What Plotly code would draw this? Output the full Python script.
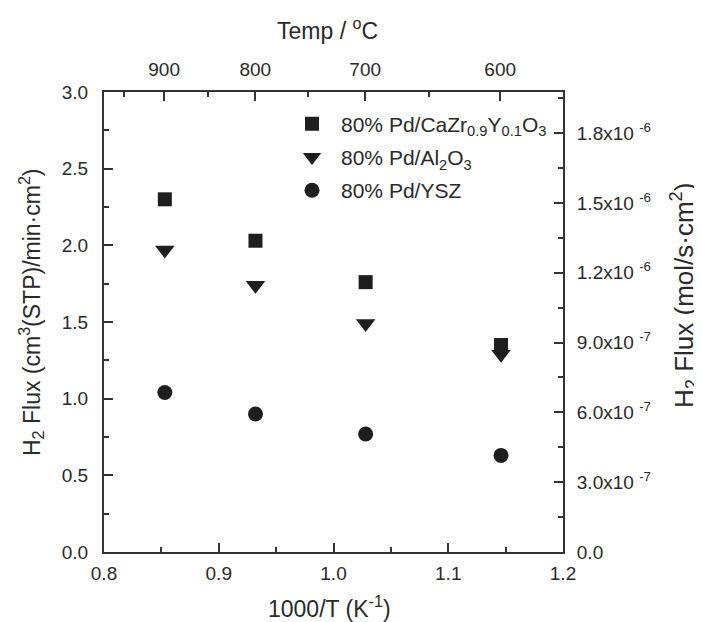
import plotly.graph_objects as go

# ---- data ----
inv_T = [0.853, 0.932, 1.028, 1.146]            # 1000/T (K^-1)
flux_cazr = [2.30, 2.03, 1.76, 1.35]            # cm3(STP)/min.cm2
flux_al2o3 = [1.97, 1.74, 1.49, 1.29]
flux_ysz = [1.04, 0.90, 0.77, 0.63]

series_names = [
    "80% Pd/CaZr<sub>0.9</sub>Y<sub>0.1</sub>O<sub>3</sub>",
    "80% Pd/Al<sub>2</sub>O<sub>3</sub>",
    "80% Pd/YSZ",
]

x_ticks = [0.8, 0.9, 1.0, 1.1, 1.2]
x_ticklabels = ["0.8", "0.9", "1.0", "1.1", "1.2"]
y_ticks = [0.0, 0.5, 1.0, 1.5, 2.0, 2.5, 3.0]
y_ticklabels = ["0.0", "0.5", "1.0", "1.5", "2.0", "2.5", "3.0"]

temp_major = [900, 800, 700, 600]               # deg C, top axis
temp_minor = [950, 850, 750, 650]

mol_per_unit = 6.59e-7                          # right axis scale (mol/s.cm2 per cm3/min.cm2)
right_ticks = [0.0, 3.0e-7, 6.0e-7, 9.0e-7, 1.2e-6, 1.5e-6, 1.8e-6]
right_ticklabels = ["0.0", "3.0x10 <sup>-7</sup>", "6.0x10 <sup>-7</sup>", "9.0x10 <sup>-7</sup>",
                    "1.2x10 <sup>-6</sup>", "1.5x10 <sup>-6</sup>", "1.8x10 <sup>-6</sup>"]

FONT = "Liberation Sans, Arial, Helvetica, sans-serif"
TXT = "#2a2a2a"
AX = "#333333"

def to_inv(t):
    return 1000.0 / (t + 273.15)

fig = go.Figure()
fig.add_trace(go.Scatter(x=inv_T, y=flux_cazr, mode="markers", name=series_names[0], legendgroup="a",
                         marker=dict(symbol="square", size=14, color="#1e1e1e")))
fig.add_trace(go.Scatter(x=inv_T, y=flux_al2o3, mode="markers", name=series_names[1], legendgroup="b",
                         marker=dict(symbol="triangle-down", size=17, color="#1e1e1e")))
fig.add_trace(go.Scatter(x=inv_T, y=flux_ysz, mode="markers", name=series_names[2], legendgroup="c",
                         marker=dict(symbol="circle", size=15, color="#1e1e1e")))
# invisible companion trace so the secondary axes get drawn
fig.add_trace(go.Scatter(x=inv_T, y=[v * mol_per_unit for v in flux_ysz], mode="markers",
                         xaxis="x2", yaxis="y2", showlegend=False, hoverinfo="skip",
                         marker=dict(opacity=0)))

common = dict(showline=True, linecolor=AX, linewidth=2, ticks="inside", ticklen=9,
              tickwidth=1.5, tickcolor=AX, showgrid=False, zeroline=False,
              tickfont=dict(family=FONT, size=19, color=TXT))

# page has an 8px body margin: figure is 8px smaller so it fits the 702x622 window
fig.update_layout(
    width=694, height=614,
    margin=dict(l=96, r=139, t=84, b=70),
    paper_bgcolor="white", plot_bgcolor="white",
    font=dict(family=FONT, color=TXT),
    showlegend=True,
    legend=dict(x=0.39, y=0.975, xanchor="left", yanchor="top", itemwidth=48,
                tracegroupgap=3,
                bgcolor="rgba(0,0,0,0)", font=dict(family=FONT, size=21, color=TXT),
                itemsizing="trace"),
    xaxis=dict(range=[0.8, 1.2], tickmode="array", tickvals=x_ticks, ticktext=x_ticklabels,
               minor=dict(tickmode="array", tickvals=[0.85, 0.95, 1.05, 1.15], ticks="inside",
                          ticklen=5, tickwidth=1.5, tickcolor=AX),
               ticklabelstandoff=3, **common),
    xaxis2=dict(range=[0.8, 1.2], overlaying="x", side="top", tickmode="array",
                tickvals=[to_inv(t) for t in temp_major], ticktext=[str(t) for t in temp_major],
                minor=dict(tickmode="array", tickvals=[to_inv(t) for t in temp_minor], ticks="inside",
                           ticklen=5, tickwidth=1.5, tickcolor=AX),
                ticklabelstandoff=6, **common),
    yaxis=dict(range=[0, 3], tickmode="array", tickvals=y_ticks, ticktext=y_ticklabels,
               minor=dict(tickmode="array", tickvals=[0.25, 0.75, 1.25, 1.75, 2.25, 2.75],
                          ticks="inside", ticklen=5, tickwidth=1.5, tickcolor=AX),
               ticklabelstandoff=10, **common),
    yaxis2=dict(range=[0, 3 * mol_per_unit], overlaying="y", side="right", tickmode="array",
                tickvals=right_ticks, ticktext=right_ticklabels,
                minor=dict(tickmode="array", tickvals=[1.5e-7, 4.5e-7, 7.5e-7, 1.05e-6, 1.35e-6, 1.65e-6, 1.95e-6],
                           ticks="inside", ticklen=5, tickwidth=1.5, tickcolor=AX),
                ticklabelstandoff=8, **common),
)

ann_font = dict(family=FONT, size=23, color=TXT)
fig.add_annotation(text="Temp / <sup>o</sup>C", xref="paper", yref="paper",
                   x=(327 - 104) / 459, y=1 + (92 - 29) / 460, showarrow=False,
                   xanchor="center", yanchor="middle", font=ann_font)
fig.add_annotation(text="1000/T (K<sup>-1</sup>)", xref="paper", yref="paper",
                   x=(329 - 104) / 459, y=-(607 - 552) / 460, showarrow=False,
                   xanchor="center", yanchor="middle", font=ann_font)
fig.add_annotation(text="H<sub>2</sub> Flux (cm<sup>3</sup>(STP)/min·cm<sup>2</sup>)",
                   xref="paper", yref="paper", textangle=-90,
                   x=-(104 - 31) / 459, y=(552 - 312) / 460, showarrow=False,
                   xanchor="center", yanchor="middle", font=ann_font)
fig.add_annotation(text="H<sub>2</sub> Flux (mol/s·cm<sup>2</sup>)",
                   xref="paper", yref="paper", textangle=-90,
                   x=1 + (684 - 563) / 459, y=(552 - 296) / 460, showarrow=False,
                   xanchor="center", yanchor="middle", font=dict(family=FONT, size=26, color=TXT))

fig.write_html("out.html")
